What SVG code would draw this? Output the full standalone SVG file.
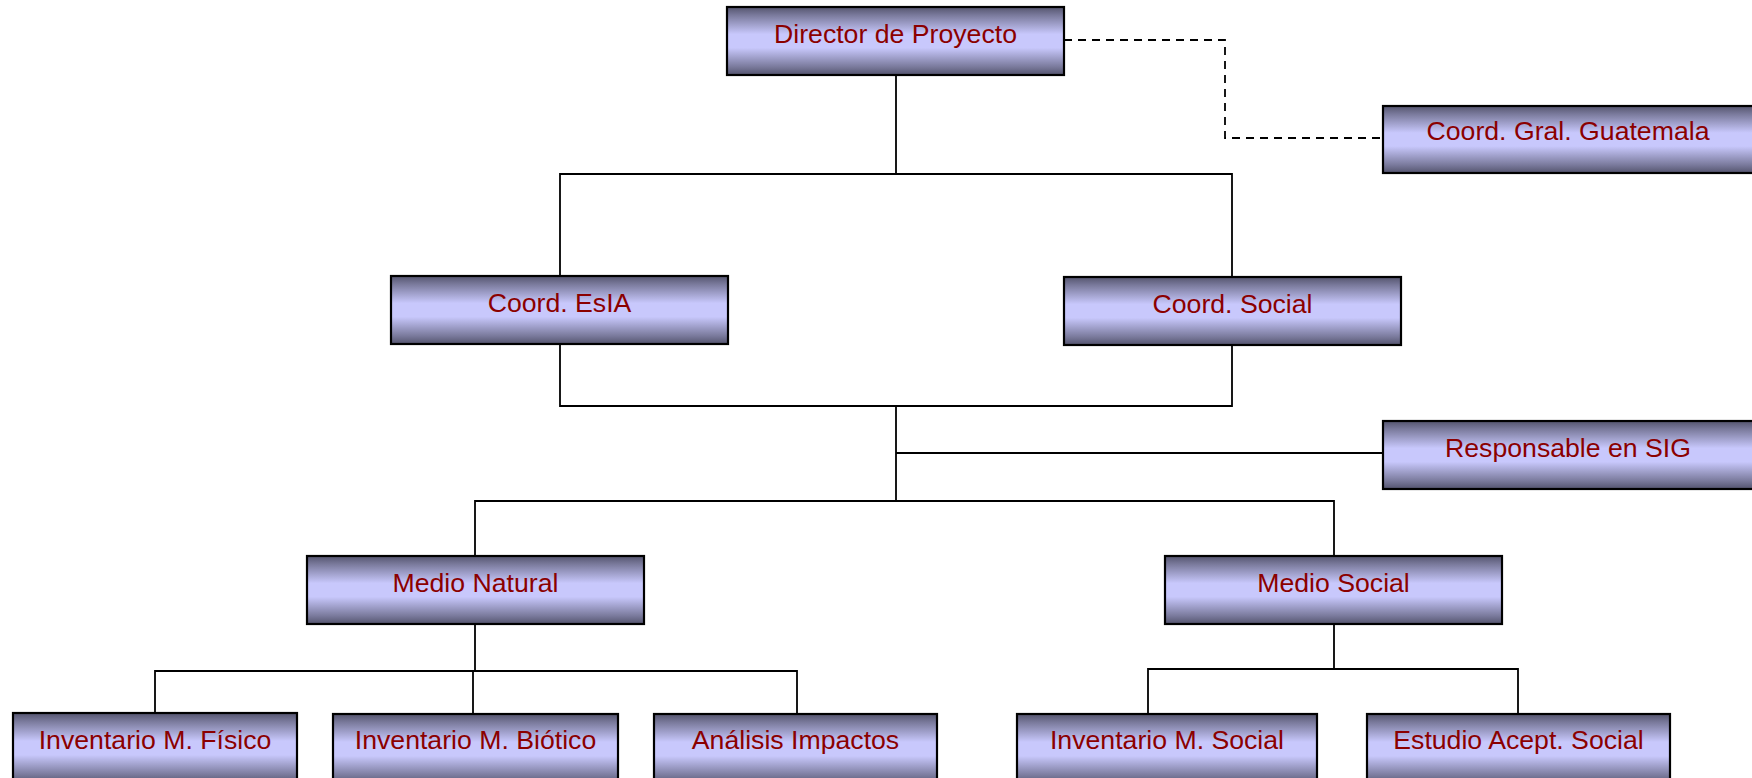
<svg xmlns="http://www.w3.org/2000/svg" width="1752" height="778" viewBox="0 0 1752 778">
<defs>
<linearGradient id="boxGrad" x1="0" y1="0" x2="0" y2="1">
<stop offset="0" stop-color="#54546e"/>
<stop offset="0.12" stop-color="#7a7a9c"/>
<stop offset="0.4" stop-color="#c8c8fc"/>
<stop offset="0.6" stop-color="#c8c8fc"/>
<stop offset="0.88" stop-color="#7a7a9c"/>
<stop offset="1" stop-color="#54546e"/>
</linearGradient>
<style>
.box{fill:url(#boxGrad);stroke:#000;stroke-width:2.2}
.lbl{font-family:"Liberation Sans",Arial,sans-serif;font-size:26.67px;fill:#8b0000;text-anchor:middle}
.ln{fill:none;stroke:#000;stroke-width:1.8}
.dash{fill:none;stroke:#000;stroke-width:1.8;stroke-dasharray:8 6}
</style>
</defs>
<rect width="1752" height="778" fill="#fff"/>
<g id="connectors">
<path class="ln" d="M896 75V174M560 276V174H1232V277"/>
<path class="dash" d="M1064 40H1225V138H1383"/>
<path class="ln" d="M560 344V406H1232V345"/>
<path class="ln" d="M896 406V501M896 453H1383"/>
<path class="ln" d="M475 556V501H1334V556"/>
<path class="ln" d="M475 625V671M155 713V671H797V713M473 671V713"/>
<path class="ln" d="M1334 625V669M1148 714V669H1518V714"/>
</g>
<g id="director"><rect class="box" x="727" y="7" width="337" height="68"/><text class="lbl" x="895.5" y="43">Director de Proyecto</text></g>
<g id="coord-gral"><rect class="box" x="1383" y="106" width="372" height="67"/><text class="lbl" x="1568" y="140">Coord. Gral. Guatemala</text></g>
<g id="coord-esia"><rect class="box" x="391" y="276" width="337" height="68"/><text class="lbl" x="559.5" y="312">Coord. EsIA</text></g>
<g id="coord-social"><rect class="box" x="1064" y="277" width="337" height="68"/><text class="lbl" x="1232.5" y="313">Coord. Social</text></g>
<g id="sig"><rect class="box" x="1383" y="421" width="372" height="68"/><text class="lbl" x="1568" y="457">Responsable en SIG</text></g>
<g id="medio-natural"><rect class="box" x="307" y="556" width="337" height="68"/><text class="lbl" x="475.5" y="592">Medio Natural</text></g>
<g id="medio-social"><rect class="box" x="1165" y="556" width="337" height="68"/><text class="lbl" x="1333.5" y="592">Medio Social</text></g>
<g id="inv-fisico"><rect class="box" x="13" y="713" width="284" height="70"/><text class="lbl" x="155" y="749">Inventario M. Físico</text></g>
<g id="inv-biotico"><rect class="box" x="333" y="714" width="285" height="70"/><text class="lbl" x="475.5" y="749">Inventario M. Biótico</text></g>
<g id="analisis"><rect class="box" x="654" y="714" width="283" height="70"/><text class="lbl" x="795.5" y="749">Análisis Impactos</text></g>
<g id="inv-social"><rect class="box" x="1017" y="714" width="300" height="70"/><text class="lbl" x="1167" y="749">Inventario M. Social</text></g>
<g id="estudio"><rect class="box" x="1367" y="714" width="303" height="70"/><text class="lbl" x="1518.5" y="749">Estudio Acept. Social</text></g>
</svg>
